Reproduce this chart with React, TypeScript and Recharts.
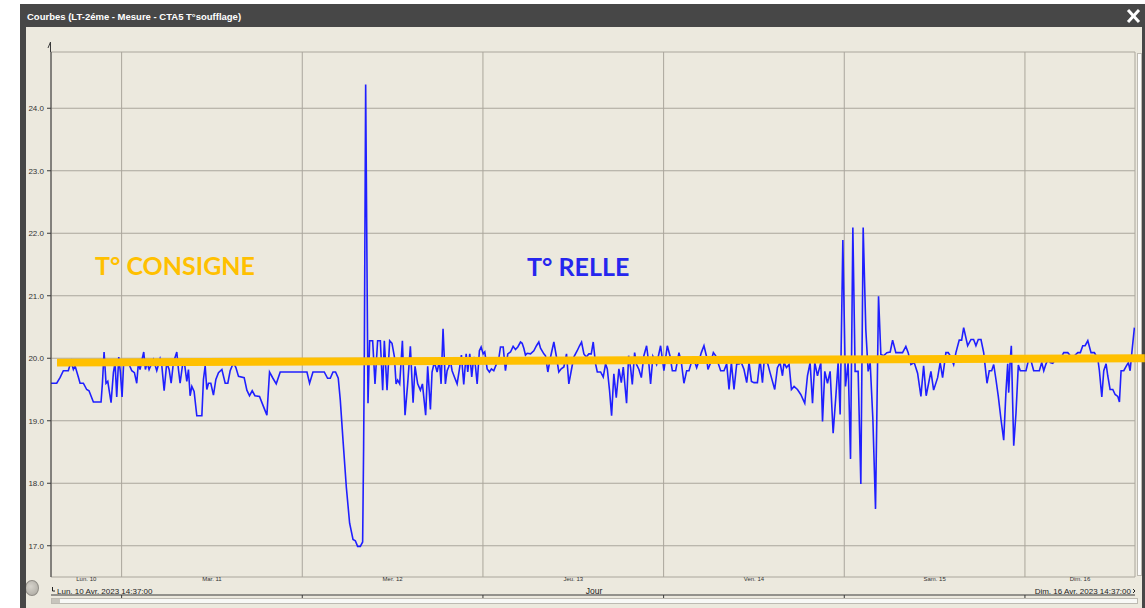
import React from 'react';
import { LineChart, Line, XAxis, YAxis, CartesianGrid, ReferenceLine } from 'recharts';

const title = 'Courbes (LT-2éme - Mesure - CTA5 T°soufflage)';
const startLabel = 'Lun. 10 Avr. 2023 14:37:00';
const endLabel = 'Dim. 16 Avr. 2023 14:37:00';
const axisName = 'Jour';

// heures écoulées depuis Lun. 10 14:37, minuit de chaque jour
const spanHours = 144;
const midnights = [9.38, 33.38, 57.38, 81.38, 105.38, 129.38];
const dayLabels = ['Lun. 10', 'Mar. 11', 'Mer. 12', 'Jeu. 13', 'Ven. 14', 'Sam. 15', 'Dim. 16'];
const yTicks = [17, 18, 19, 20, 21, 22, 23, 24];

// consigne (trait orange tracé à la main)
const consigne: [number, number][] = [[0.8, 19.93], [145.3, 20.0]];

// [heure, °C]
const tReelle: [number, number][] = [
  [0, 19.6], [0.76, 19.6], [1.2, 19.69], [1.64, 19.8], [2.3, 19.8], [2.66, 19.95], [2.97, 19.82], [3.19, 19.88],
  [3.63, 19.7], [3.86, 19.6], [4.3, 19.6], [4.74, 19.5], [5.05, 19.48], [5.63, 19.3], [6.65, 19.3], [6.83, 19.6],
  [7.05, 20.1], [7.31, 19.6], [7.54, 19.63], [7.98, 19.29], [8.29, 19.77], [8.51, 19.93], [8.73, 19.38], [9.0, 20.02],
  [9.22, 19.77], [9.44, 19.38], [9.66, 19.95], [10.28, 19.93], [10.73, 19.8], [11.08, 19.77], [11.39, 19.6], [11.61, 19.93],
  [11.83, 19.82], [12.06, 19.96], [12.32, 20.1], [12.54, 19.82], [12.77, 19.93], [13.03, 19.82], [13.6, 19.98], [14.05, 19.8],
  [14.49, 19.99], [14.72, 19.88], [15.03, 19.48], [15.38, 19.93], [15.69, 19.82], [15.96, 19.6], [16.26, 19.93], [16.71, 20.1],
  [16.93, 19.82], [17.15, 19.6], [17.46, 19.88], [17.72, 19.93], [18.04, 19.63], [18.26, 19.82], [18.48, 19.4], [18.71, 19.55],
  [19.01, 19.47], [19.37, 19.08], [20.04, 19.08], [20.25, 19.66], [20.48, 19.88], [20.7, 19.5], [20.92, 19.6], [21.23, 19.6],
  [21.58, 19.41], [21.9, 19.66], [22.25, 19.77], [22.7, 19.82], [23.14, 19.6], [23.49, 19.6], [23.8, 19.8], [24.24, 19.93],
  [24.56, 19.85], [24.91, 19.71], [25.66, 19.69], [26.02, 19.49], [26.37, 19.4], [26.73, 19.48], [27.09, 19.4], [27.7, 19.39],
  [28.15, 19.25], [28.68, 19.09], [29.03, 19.78], [29.48, 19.68], [29.92, 19.59], [30.45, 19.78], [34.0, 19.78], [34.35, 19.6],
  [34.8, 19.78], [36.3, 19.78], [36.74, 19.68], [37.1, 19.68], [37.46, 19.78], [37.8, 19.78], [38.16, 19.68], [38.43, 19.33],
  [38.79, 18.69], [39.23, 17.94], [39.67, 17.36], [40.12, 17.1], [40.43, 17.08], [40.73, 16.99], [41.09, 16.99], [41.4, 17.06],
  [41.53, 18.59], [41.62, 20.0], [41.8, 24.38], [42.11, 19.28], [42.33, 20.28], [42.73, 20.28], [43.04, 19.59], [43.39, 20.28],
  [43.75, 20.28], [44.06, 19.49], [44.28, 20.28], [44.64, 19.49], [44.99, 20.28], [45.3, 20.24], [45.61, 20.03], [45.84, 19.59],
  [46.05, 19.65], [46.32, 19.59], [46.68, 20.28], [47.03, 19.09], [47.38, 19.59], [47.74, 20.19], [48.1, 19.29], [48.36, 19.87],
  [48.71, 19.59], [49.07, 19.49], [49.34, 19.59], [49.77, 19.09], [50.04, 19.87], [50.4, 19.18], [50.62, 19.78], [50.93, 19.94],
  [51.29, 19.78], [51.6, 19.96], [51.82, 19.59], [52.08, 20.47], [52.39, 19.59], [52.62, 19.8], [52.83, 19.86], [53.06, 19.96],
  [53.28, 19.8], [53.59, 19.7], [53.95, 19.59], [54.26, 19.83], [54.52, 20.05], [54.83, 19.58], [55.15, 20.07], [55.36, 19.78],
  [55.63, 20.07], [55.89, 19.7], [56.16, 20.02], [56.38, 19.88], [56.61, 19.59], [56.91, 20.12], [57.14, 20.18], [57.41, 20.07],
  [57.62, 20.1], [57.94, 19.83], [58.24, 19.78], [58.51, 19.83], [58.82, 19.8], [59.18, 19.91], [59.48, 19.99], [59.71, 20.18],
  [60.07, 20.18], [60.37, 19.8], [60.68, 20.07], [61.04, 20.1], [61.39, 20.19], [61.7, 20.14], [62.01, 20.18], [62.37, 20.26],
  [62.59, 20.24], [62.81, 20.16], [63.03, 20.05], [63.26, 20.08], [63.7, 20.07], [64.14, 20.12], [64.49, 20.2], [64.8, 20.26],
  [65.03, 20.16], [65.47, 20.07], [65.69, 20.04], [66.0, 19.78], [66.36, 20.02], [66.8, 20.26], [67.15, 20.02], [67.46, 19.78],
  [67.78, 19.83], [68.13, 19.86], [68.48, 20.07], [68.79, 19.59], [69.11, 19.8], [69.45, 20.02], [69.9, 20.12], [70.21, 20.2],
  [70.48, 20.26], [70.79, 20.07], [71.1, 20.02], [71.45, 20.07], [71.77, 20.07], [72.03, 20.26], [72.34, 19.91], [72.57, 19.78],
  [73.01, 19.78], [73.36, 19.7], [73.67, 19.91], [73.9, 19.83], [74.2, 19.48], [74.47, 19.08], [74.77, 19.75], [75.09, 19.37],
  [75.44, 19.83], [75.76, 19.61], [76.02, 19.86], [76.46, 19.28], [76.73, 20.04], [76.99, 19.85], [77.22, 19.58], [77.53, 20.09],
  [77.79, 19.9], [78.1, 19.82], [78.42, 19.69], [78.76, 20.04], [79.12, 20.2], [79.43, 19.9], [79.65, 19.59], [79.96, 20.03],
  [80.45, 19.9], [80.98, 20.2], [81.42, 19.8], [81.87, 20.2], [82.22, 20.04], [82.54, 19.8], [82.98, 19.8], [83.42, 20.09],
  [83.74, 19.93], [84.08, 19.6], [84.44, 19.8], [84.75, 19.8], [85.06, 19.93], [85.41, 19.98], [85.77, 19.85], [86.08, 19.96],
  [86.39, 20.09], [86.74, 20.2], [87.06, 20.04], [87.27, 19.82], [87.63, 19.93], [87.99, 20.09], [88.3, 20.04], [88.6, 19.93],
  [88.96, 19.8], [89.4, 19.8], [89.76, 19.91], [90.07, 19.5], [90.38, 19.93], [90.73, 19.5], [91.09, 19.91], [91.4, 19.91],
  [91.71, 19.93], [92.06, 19.82], [92.42, 19.61], [92.73, 19.93], [93.05, 19.63], [93.39, 19.61], [93.84, 19.61], [94.19, 19.98],
  [94.51, 19.61], [94.72, 19.93], [95.17, 19.93], [95.52, 19.77], [95.84, 19.63], [96.14, 19.5], [96.5, 19.85], [96.85, 19.93],
  [97.17, 19.72], [97.38, 19.93], [97.7, 19.85], [98.05, 19.9], [98.36, 19.5], [98.71, 19.55], [99.16, 19.5], [99.6, 19.42],
  [100.13, 19.28], [100.49, 19.72], [100.84, 19.93], [101.16, 19.28], [101.46, 19.93], [101.82, 19.72], [102.26, 19.93], [102.49, 18.99],
  [102.79, 19.79], [103.15, 19.6], [103.5, 19.79], [103.9, 18.8], [104.26, 19.39], [104.56, 19.93], [104.83, 19.1], [105.19, 21.89],
  [105.54, 19.55], [105.89, 19.93], [106.21, 18.39], [106.52, 22.09], [106.82, 19.79], [107.22, 19.79], [107.58, 17.99], [107.89, 22.09],
  [108.24, 20.46], [108.55, 19.79], [108.82, 19.93], [109.18, 19.02], [109.53, 17.59], [109.93, 20.99], [110.24, 20.06], [110.6, 20.04],
  [111.04, 20.09], [111.48, 20.1], [111.8, 20.29], [112.23, 20.09], [113.12, 20.09], [113.56, 20.19], [113.87, 20.09], [114.23, 19.9],
  [114.67, 19.93], [115.12, 19.76], [115.56, 19.39], [115.92, 19.88], [116.26, 19.4], [116.89, 19.79], [117.25, 19.49], [117.78, 19.69],
  [118.12, 19.93], [118.44, 19.69], [118.88, 20.09], [119.19, 20.09], [119.46, 20.04], [119.91, 19.9], [120.21, 20.09], [120.65, 20.29],
  [120.97, 20.29], [121.24, 20.49], [121.77, 20.2], [122.21, 20.3], [122.56, 20.3], [122.87, 20.2], [123.18, 20.3], [123.54, 20.3],
  [123.9, 20.09], [124.07, 19.9], [124.34, 19.6], [124.64, 19.8], [124.96, 19.8], [125.23, 19.9], [125.53, 19.66], [125.84, 19.39],
  [126.2, 19.02], [126.56, 18.69], [126.86, 19.47], [127.09, 19.91], [127.22, 19.45], [127.43, 19.99], [127.57, 20.2], [127.75, 19.28],
  [127.89, 18.6], [128.19, 19.12], [128.5, 19.89], [128.76, 19.8], [129.21, 19.8], [129.52, 19.8], [129.83, 19.96], [130.19, 19.96],
  [130.54, 19.8], [130.98, 19.8], [131.29, 19.8], [131.61, 19.93], [131.88, 19.8], [132.18, 19.91], [132.49, 19.99], [132.75, 19.93],
  [133.07, 19.92], [133.51, 19.99], [134.18, 20.01], [134.53, 20.09], [135.07, 20.09], [135.41, 20.04], [135.95, 20.04], [136.4, 20.09],
  [136.74, 20.09], [137.06, 20.2], [137.37, 20.2], [137.73, 20.28], [138.16, 20.09], [138.6, 20.09], [139.06, 19.99], [139.27, 19.8],
  [139.59, 19.38], [139.85, 19.8], [140.16, 19.91], [140.38, 19.72], [140.69, 19.5], [141.05, 19.5], [141.36, 19.42], [141.71, 19.39],
  [141.93, 19.3], [142.15, 19.8], [142.51, 19.8], [142.82, 19.87], [143.12, 19.93], [143.35, 19.8], [143.58, 20.09], [143.92, 20.49],
];

const data = tReelle.map(([h, v]) => ({ h, v }));
const bounds = [0, ...midnights, spanHours];
const dayCenters = dayLabels.map((_, i) => (bounds[i] + bounds[i + 1]) / 2);

const FONT = '"Liberation Sans", Arial, sans-serif';
const BEIGE = '#ece9de';

const NoTick = () => <g />;

export default function App() {
  return (
    <div style={{ position: 'absolute', left: 0, top: 0, width: 1145, height: 608, background: '#fff', overflow: 'hidden' }}>
      {/* fenêtre */}
      <div style={{ position: 'absolute', left: 20, top: 4, width: 1125, height: 604, background: '#474747' }} />
      <div style={{ position: 'absolute', left: 26, top: 27, width: 1116, height: 581, background: BEIGE, overflow: 'hidden' }}>
        <div style={{ position: 'absolute', left: -1, top: 553, width: 12, height: 14, borderRadius: '50%', background: 'radial-gradient(circle at 40% 40%, #d6d3cb, #a9a69e)', border: '1px solid #8f8c85' }} />
        <div style={{ position: 'absolute', left: 25, top: 571, width: 1085, height: 4, background: '#f8f8f6', border: '1px solid #bdbab2' }} />
        <div style={{ position: 'absolute', left: 26, top: 572, width: 8, height: 4, background: '#c8c5bd' }} />
        <div style={{ position: 'absolute', left: 1111, top: 26, width: 3, height: 521, background: '#fbfbfa', border: '1px solid #bdbab2' }} />
      </div>

      <div style={{ position: 'absolute', left: 0, top: 0 }}>
        <LineChart width={1145} height={608} data={data} margin={{ top: 52, right: 10, bottom: 10, left: 26 }}>
          <CartesianGrid xAxisId="grid" stroke="#aaa69c" strokeWidth={1} />
          <XAxis
            xAxisId="grid"
            dataKey="h"
            type="number"
            domain={[0, spanHours]}
            ticks={midnights}
            interval={0}
            allowDataOverflow
            tick={NoTick}
            tickSize={3}
            height={3}
            stroke="#3a3a3a"
          />
          <XAxis
            xAxisId="days"
            dataKey="h"
            type="number"
            domain={[0, spanHours]}
            ticks={dayCenters}
            interval={0}
            allowDataOverflow
            tickFormatter={(_: number, i: number) => dayLabels[i]}
            axisLine={false}
            tickLine={false}
            tickSize={0}
            tickMargin={0}
            height={18}
            tick={{ fontSize: 6, fill: '#333', fontFamily: FONT }}
          />
          <YAxis
            type="number"
            domain={[16.5, 24.9]}
            ticks={yTicks}
            interval={0}
            allowDataOverflow
            width={25}
            tickSize={4}
            tickMargin={3}
            stroke="#3a3a3a"
            tickFormatter={(v: number) => v.toFixed(1)}
            tick={{ fontSize: 8, fill: '#333', fontFamily: FONT }}
          />
          <Line
            xAxisId="grid"
            type="linear"
            dataKey="v"
            stroke="#1f1fff"
            strokeWidth={1.6}
            dot={false}
            activeDot={false}
            isAnimationActive={false}
          />
          <ReferenceLine
            xAxisId="grid"
            segment={consigne.map(([x, y]) => ({ x, y }))}
            stroke="#ffc000"
            strokeWidth={8}
            ifOverflow="visible"
          />
        </LineChart>
      </div>

      <svg width={1145} height={608} style={{ position: 'absolute', left: 0, top: 0, pointerEvents: 'none' }}>
        <text x={27} y={19.5} fill="#fff" fontFamily={FONT} fontWeight="bold" fontSize={9.5}>{title}</text>
        <line x1={1128} y1={10} x2={1139} y2={22} stroke="#fff" strokeWidth={3} />
        <line x1={1139} y1={10} x2={1128} y2={22} stroke="#fff" strokeWidth={3} />
        <polyline points="48,48 50.5,42 50.5,52" fill="none" stroke="#3a3a3a" strokeWidth={1} />
        <polyline points="52.5,587 52.5,591 55,591" fill="none" stroke="#222" strokeWidth={1} />
        <text x={57} y={593.5} fill="#222" fontFamily={FONT} fontSize={8}>{startLabel}</text>
        <text x={594} y={593.5} fill="#222" fontFamily={FONT} fontSize={8.5} textAnchor="middle">{axisName}</text>
        <text x={1131} y={593.5} fill="#222" fontFamily={FONT} fontSize={8} textAnchor="end">{endLabel}</text>
        <polyline points="1133,589 1135,591 1133,593" fill="none" stroke="#222" strokeWidth={1} />
        <text x={95} y={275} fill="#ffc000" fontFamily="Lato, sans-serif" fontWeight="bold" fontSize={25}>T° CONSIGNE</text>
        <text x={527} y={276} fill="#2626ee" fontFamily="Lato, sans-serif" fontWeight="bold" fontSize={25}>T° RELLE</text>
      </svg>
    </div>
  );
}
